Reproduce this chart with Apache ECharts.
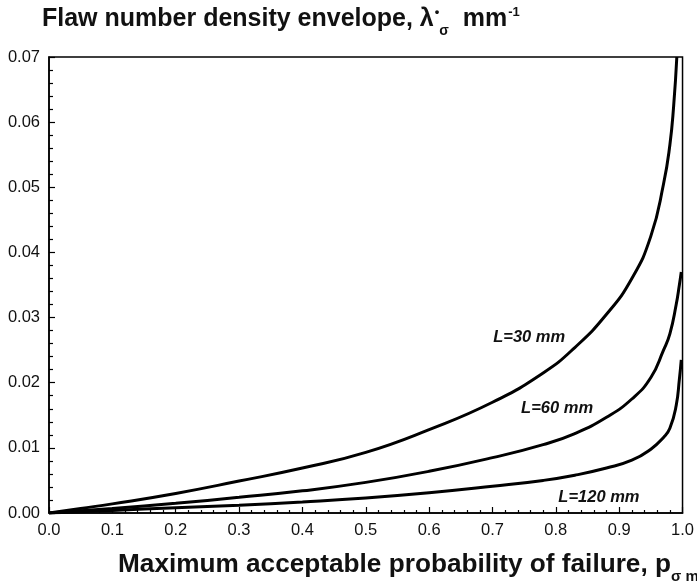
<!DOCTYPE html>
<html>
<head>
<meta charset="utf-8">
<script src="https://cdn.jsdelivr.net/npm/echarts@6/dist/echarts.min.js"></script>
<style>html,body{margin:0;padding:0;background:#fff;}#c{width:697px;height:585px;}</style>
</head>
<body>
<div id="c"></div>
<script>
const p30   = [0, 0.05, 0.1, 0.2, 0.3, 0.4, 0.5, 0.6, 0.7, 0.78, 0.83, 0.88, 0.92, 0.95, 0.97, 0.98, 0.986, 0.991];
const lam30 = [0, 0.0007, 0.0014, 0.0030, 0.0049, 0.0069, 0.0093, 0.0128, 0.0170, 0.0215, 0.0254, 0.0305, 0.0360, 0.0425, 0.0505, 0.0565, 0.0625, 0.0700];
const p60   = [0, 0.1, 0.2, 0.3, 0.4, 0.5, 0.6, 0.7, 0.78, 0.83, 0.88, 0.92, 0.95, 0.97, 0.98, 0.99, 0.995, 0.998];
const lam60 = [0, 0.0007, 0.0015, 0.0024, 0.0034, 0.0047, 0.0064, 0.0085, 0.0105, 0.0122, 0.0147, 0.0175, 0.0208, 0.0250, 0.0275, 0.0320, 0.0350, 0.0370];
const p120   = [0, 0.1, 0.2, 0.3, 0.4, 0.5, 0.6, 0.7, 0.78, 0.83, 0.88, 0.92, 0.95, 0.97, 0.98, 0.99, 0.995, 0.998];
const lam120 = [0, 0.0004, 0.0008, 0.0012, 0.0017, 0.0023, 0.0031, 0.0041, 0.0050, 0.0058, 0.0069, 0.0081, 0.0098, 0.0116, 0.0130, 0.0165, 0.0205, 0.0235];
const seriesNames = ['L=30 mm', 'L=60 mm', 'L=120 mm'];
const xTicks = [0, 0.1, 0.2, 0.3, 0.4, 0.5, 0.6, 0.7, 0.8, 0.9, 1.0];
const yTicks = [0, 0.01, 0.02, 0.03, 0.04, 0.05, 0.06, 0.07];
// annotation anchor points (data space)
const labelAt = [[0.758, 0.0269], [0.802, 0.0161], [0.868, 0.00246]];

const pairs = (xs, ys) => xs.map((x, i) => [x, ys[i]]);
const font = '"Liberation Sans", Arial, sans-serif';
const chart = echarts.init(document.getElementById('c'), null, {renderer: 'canvas'});

function mkSeries(name, data, k) {
  return {
    type: 'line', name, data, smooth: 0.5, showSymbol: false, symbol: 'none',
    lineStyle: {color: '#000', width: 3}, z: 3,
    markPoint: {
      symbol: 'circle', symbolSize: 0, silent: true,
      data: [{coord: labelAt[k], value: name}],
      label: {show: true, formatter: name, color: '#111', fontFamily: font, fontWeight: 'bold',
              fontStyle: 'italic', fontSize: 16.5, position: 'inside'}
    }
  };
}

chart.setOption({
  animation: false,
  backgroundColor: '#fff',
  title: {
    left: 42, top: 4, padding: 0,
    text: '{a|Flaw number density envelope, λ}{sup|•}{sub|σ}{a|  mm}{sup|-1}',
    textStyle: {
      rich: {
        a: {fontFamily: font, fontWeight: 'bold', fontSize: 25, color: '#111', lineHeight: 30},
        sup: {fontFamily: font, fontWeight: 'bold', fontSize: 13, color: '#111', verticalAlign: 'top', lineHeight: 30, padding: [2, 0, 0, 1]},
        sub: {fontFamily: font, fontWeight: 'bold', fontSize: 14, color: '#111', verticalAlign: 'bottom', lineHeight: 30, padding: [0, 0, -4, 0]}
      }
    }
  },
  graphic: [{
    type: 'text', left: 118, top: 552,
    style: {
      text: '{a|Maximum acceptable probability of failure, p}{sub|σ max}',
      rich: {
        a: {fontFamily: font, fontWeight: 'bold', fontSize: 26.2, fill: '#111', lineHeight: 30},
        sub: {fontFamily: font, fontWeight: 'bold', fontSize: 15, fill: '#111', verticalAlign: 'bottom', lineHeight: 30, padding: [0, 0, -4, 0]}
      }
    }
  }],
  grid: {left: 49, right: 12, top: 57, bottom: 72, show: true, borderColor: '#000', borderWidth: 1.5, backgroundColor: 'transparent'},
  xAxis: {
    type: 'value', min: xTicks[0], max: xTicks[xTicks.length - 1], interval: 0.1,
    axisLine: {show: true, lineStyle: {color: '#000', width: 1.5}},
    axisTick: {show: true, inside: true, length: 6, lineStyle: {color: '#000', width: 1.2}},
    minorTick: {show: true, splitNumber: 5, length: 3, lineStyle: {color: '#000', width: 1.2}},
    splitLine: {show: false},
    axisLabel: {color: '#111', fontFamily: font, fontSize: 16.5, margin: 9, formatter: v => v.toFixed(1)}
  },
  yAxis: {
    type: 'value', min: yTicks[0], max: yTicks[yTicks.length - 1], interval: 0.01,
    axisLine: {show: true, lineStyle: {color: '#000', width: 1.5}},
    axisTick: {show: true, inside: true, length: 6, lineStyle: {color: '#000', width: 1.2}},
    minorTick: {show: true, splitNumber: 5, length: 4, lineStyle: {color: '#000', width: 1.2}},
    splitLine: {show: false},
    axisLabel: {color: '#111', fontFamily: font, fontSize: 16.5, margin: 9, formatter: v => v.toFixed(2)}
  },
  series: [
    mkSeries(seriesNames[0], pairs(p30, lam30), 0),
    mkSeries(seriesNames[1], pairs(p60, lam60), 1),
    mkSeries(seriesNames[2], pairs(p120, lam120), 2)
  ]
});
</script>
</body>
</html>
